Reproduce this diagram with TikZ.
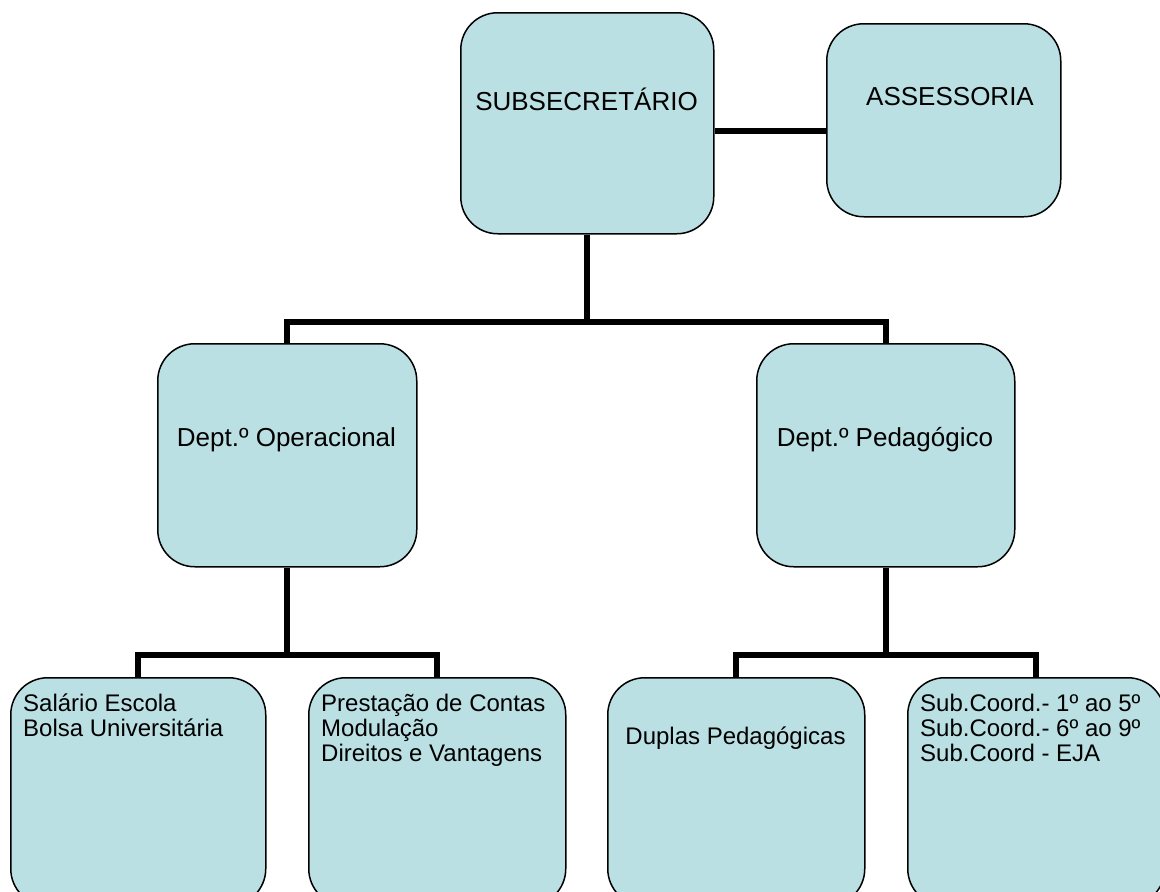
\documentclass[tikz,border=0pt]{standalone}
\usepackage{fontspec}
\setmainfont{Liberation Sans}
\definecolor{boxfill}{RGB}{187,224,227}
\begin{document}
\begin{tikzpicture}[x=1pt,y=-1pt,
  box/.style={draw=black, line width=1.5pt, fill=boxfill, rounded corners=37pt,
              inner sep=0pt, anchor=north west},
  conn/.style={line width=6pt, line join=miter},
  big/.style={font=\fontsize{26}{30}\selectfont, inner sep=0pt, anchor=base},
  small/.style={font=\fontsize{24}{27.6}\selectfont, inner sep=0pt, anchor=base west},
  smallc/.style={font=\fontsize{24}{27.6}\selectfont, inner sep=0pt, anchor=base}]
\useasboundingbox (0,0) rectangle (1160,892);
\clip (0,0) rectangle (1160,892);

% boxes
\node[box, minimum width=253pt, minimum height=221pt] (sub) at (460,12) {};
\node[box, minimum width=234pt, minimum height=193pt] (ass) at (826,23) {};
\node[box, minimum width=259pt, minimum height=223pt] (op)  at (157,343) {};
\node[box, minimum width=258pt, minimum height=223pt] (ped) at (756,343) {};
\node[box, minimum width=255pt, minimum height=228pt] (sal) at (10,677) {};
\node[box, minimum width=257pt, minimum height=228pt] (pre) at (308,677) {};
\node[box, minimum width=257pt, minimum height=228pt] (dup) at (607,677) {};
\node[box, minimum width=257pt, minimum height=228pt] (sc)  at (907,677) {};

% connectors
\draw[conn] ([yshift=-7.5pt]sub.east) -- ([yshift=-10.5pt]ass.west);
\draw[conn] (sub.south) -- ++(0,87) coordinate (j1);
\draw[conn] (op.north) |- (j1) -| (ped.north);
\draw[conn] (op.south) -- ++(0,87) coordinate (j2);
\draw[conn] (sal.north) |- (j2) -| (pre.north);
\draw[conn] (ped.south) -- ++(0,87) coordinate (j3);
\draw[conn] (dup.north) |- (j3) -| (sc.north);

% texts
\node[big] (tsub) at (586.5,110) {SUBSECRETÁRIO};
\node[big] (tass) at (950,105) {ASSESSORIA};
\node[big] (top) at (286.5,446) {Dept.º Operacional};
\node[big] (tped) at (885,446) {Dept.º Pedagógico};

\node[small] (sal1) at (23,711) {Salário Escola};
\node[small] (sal2) at (23,736) {Bolsa Universitária};
\node[small] (pre1) at (321,711) {Prestação de Contas};
\node[small] (pre2) at (321,736) {Modulação};
\node[small] (pre3) at (321,761) {Direitos e Vantagens};
\node[smallc] (dup1) at (735.5,744) {Duplas Pedagógicas};
\node[small] (sc1) at (920,711) {Sub.Coord.- 1º ao 5º};
\node[small] (sc2) at (920,736) {Sub.Coord.- 6º ao 9º};
\node[small] (sc3) at (920,761) {Sub.Coord - EJA};
\end{tikzpicture}
\end{document}
